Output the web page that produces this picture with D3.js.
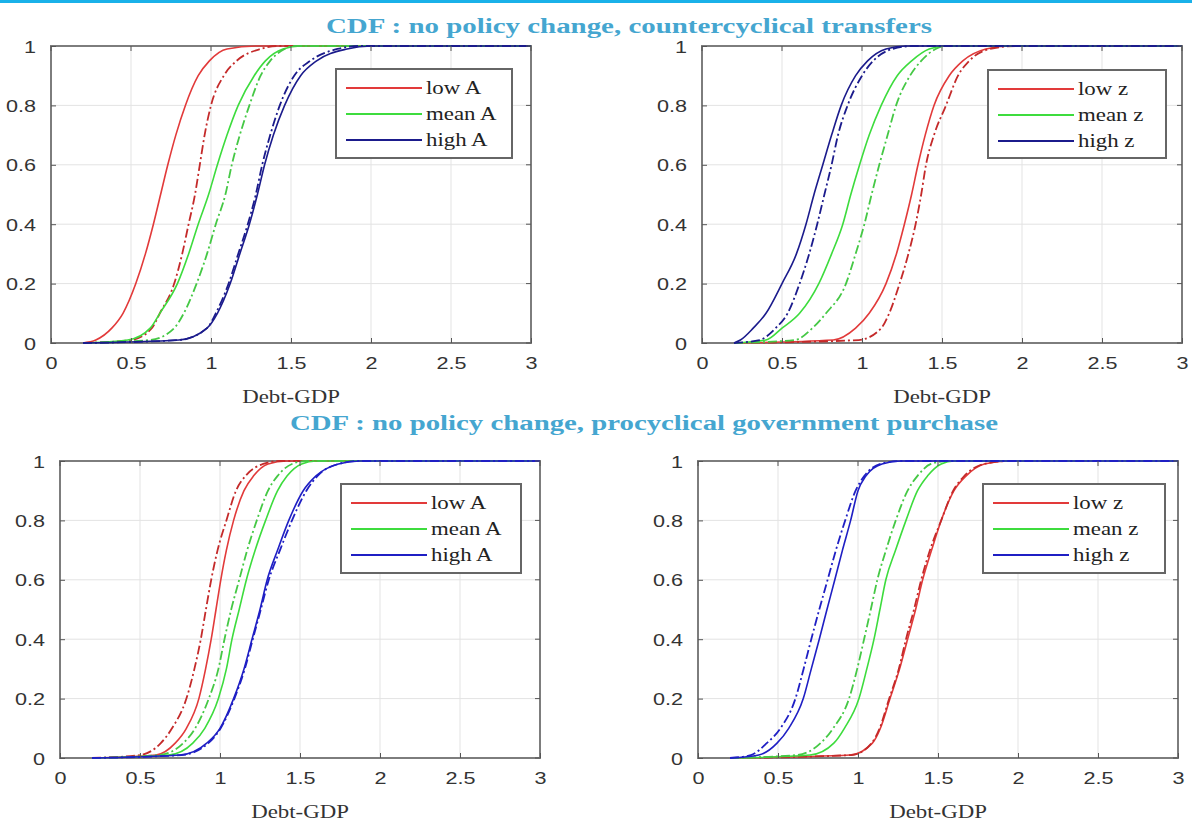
<!DOCTYPE html>
<html>
<head>
<meta charset="utf-8">
<script src="https://cdn.jsdelivr.net/npm/d3@7"></script>
<style>
  body { margin: 0; background: #fff; }
  svg { display: block; }
</style>
</head>
<body>
<div id="chart"></div>
<script>
// CDF levels shared by every curve (y values)
const cdfLevels = [0, 0.01, 0.05, 0.1, 0.2, 0.3, 0.4, 0.5, 0.6, 0.7, 0.8, 0.9, 0.95, 0.99, 1, 1];

// Debt-GDP where each curve reaches the level above
// top-left: countercyclical transfers, by A
const tlLowSolid   = [0.2, 0.28, 0.38, 0.45, 0.53, 0.59, 0.64, 0.685, 0.73, 0.78, 0.84, 0.92, 0.99, 1.1, 1.3, 3];
const tlLowDash    = [0.2, 0.5, 0.63, 0.68, 0.77, 0.82, 0.86, 0.90, 0.93, 0.96, 1.0, 1.08, 1.16, 1.31, 1.41, 3];
const tlMeanSolid  = [0.2, 0.48, 0.62, 0.68, 0.79, 0.86, 0.92, 0.985, 1.04, 1.1, 1.17, 1.27, 1.34, 1.45, 1.56, 3];
const tlMeanDash   = [0.2, 0.62, 0.77, 0.83, 0.91, 0.975, 1.03, 1.09, 1.13, 1.18, 1.24, 1.31, 1.37, 1.46, 1.52, 3];
const tlHighSolid  = [0.2, 0.8, 0.975, 1.04, 1.12, 1.18, 1.24, 1.29, 1.335, 1.39, 1.46, 1.56, 1.66, 1.85, 2.0, 3];
const tlHighDash   = [0.2, 0.8, 0.975, 1.03, 1.11, 1.17, 1.23, 1.28, 1.32, 1.37, 1.43, 1.52, 1.62, 1.79, 1.93, 3];

// top-right: countercyclical transfers, by z
const trLowSolid   = [0.2, 0.82, 0.96, 1.045, 1.15, 1.215, 1.265, 1.31, 1.35, 1.395, 1.45, 1.545, 1.63, 1.775, 1.92, 3];
const trLowDash    = [0.2, 0.98, 1.12, 1.17, 1.235, 1.29, 1.335, 1.37, 1.40, 1.45, 1.525, 1.60, 1.67, 1.80, 1.96, 3];
const trMeanSolid  = [0.2, 0.4, 0.50, 0.61, 0.73, 0.81, 0.88, 0.93, 0.985, 1.045, 1.12, 1.22, 1.31, 1.42, 1.525, 3];
const trMeanDash   = [0.2, 0.58, 0.69, 0.775, 0.90, 0.96, 1.015, 1.06, 1.108, 1.16, 1.213, 1.30, 1.37, 1.46, 1.525, 3];
const trHighSolid  = [0.2, 0.24, 0.32, 0.40, 0.50, 0.59, 0.65, 0.70, 0.755, 0.81, 0.87, 0.96, 1.035, 1.15, 1.275, 3];
const trHighDash   = [0.2, 0.36, 0.46, 0.535, 0.61, 0.67, 0.72, 0.765, 0.81, 0.85, 0.91, 1.0, 1.07, 1.19, 1.32, 3];

// bottom-left: procyclical government purchase, by A
const blLowSolid   = [0.2, 0.6, 0.72, 0.79, 0.868, 0.91, 0.945, 0.975, 1.005, 1.04, 1.085, 1.15, 1.21, 1.3, 1.415, 3];
const blLowDash    = [0.2, 0.5, 0.63, 0.7, 0.79, 0.84, 0.88, 0.912, 0.945, 0.985, 1.04, 1.1, 1.16, 1.27, 1.375, 3];
const blMeanSolid  = [0.2, 0.68, 0.83, 0.905, 0.99, 1.04, 1.075, 1.12, 1.165, 1.22, 1.285, 1.36, 1.42, 1.51, 1.6, 3];
const blMeanDash   = [0.2, 0.62, 0.77, 0.845, 0.93, 0.99, 1.028, 1.07, 1.12, 1.17, 1.23, 1.3, 1.36, 1.45, 1.54, 3];
const blHighSolid  = [0.2, 0.75, 0.917, 1.0, 1.085, 1.15, 1.2, 1.25, 1.295, 1.36, 1.43, 1.52, 1.6, 1.74, 1.875, 3];
const blHighDash   = [0.2, 0.76, 0.927, 1.004, 1.09, 1.155, 1.205, 1.255, 1.305, 1.375, 1.45, 1.54, 1.61, 1.74, 1.875, 3];

// bottom-right: procyclical government purchase, by z
const brLowSolid   = [0.2, 0.95, 1.09, 1.14, 1.2, 1.26, 1.31, 1.36, 1.404, 1.46, 1.52, 1.6, 1.676, 1.79, 1.937, 3];
const brLowDash    = [0.2, 0.96, 1.085, 1.135, 1.195, 1.255, 1.3, 1.35, 1.395, 1.45, 1.52, 1.595, 1.665, 1.79, 1.937, 3];
const brMeanSolid  = [0.2, 0.7, 0.849, 0.915, 1.006, 1.055, 1.1, 1.137, 1.174, 1.235, 1.3, 1.372, 1.435, 1.52, 1.6, 3];
const brMeanDash   = [0.2, 0.62, 0.766, 0.845, 0.944, 0.995, 1.038, 1.08, 1.121, 1.175, 1.236, 1.31, 1.372, 1.456, 1.56, 3];
const brHighSolid  = [0.2, 0.38, 0.494, 0.567, 0.658, 0.708, 0.758, 0.806, 0.855, 0.903, 0.954, 1.0, 1.05, 1.15, 1.268, 3];
const brHighDash   = [0.2, 0.33, 0.43, 0.515, 0.609, 0.66, 0.708, 0.758, 0.81, 0.862, 0.92, 0.985, 1.04, 1.14, 1.268, 3];

const xTicks = [0, 0.5, 1, 1.5, 2, 2.5, 3];
const xTickLabels = ["0", "0.5", "1", "1.5", "2", "2.5", "3"];
const yTicks = [0, 0.2, 0.4, 0.6, 0.8, 1];
const yTickLabels = ["0", "0.2", "0.4", "0.6", "0.8", "1"];
const legendA = ["low A", "mean A", "high A"];
const legendZ = ["low z", "mean z", "high z"];
const titles = ["CDF : no policy change, countercyclical transfers",
                "CDF : no policy change, procyclical government purchase"];

// text in the picture is stretched sideways
const sx = 1.27;

const svg = d3.select("#chart")
    .append("svg")
    .attr("width", 1192)
    .attr("height", 821);

// cyan rule at the very top
svg.append("rect")
    .attr("x", 0).attr("y", 0)
    .attr("width", 1192).attr("height", 3)
    .attr("fill", "#19b1e9");

// Titles
svg.append("text")
    .attr("x", 326).attr("y", 33)
    .attr("textLength", 606)
    .attr("lengthAdjust", "spacingAndGlyphs")
    .style("font-family", "'Liberation Serif', serif")
    .style("font-weight", "bold")
    .style("font-size", "20px")
    .style("fill", "#45a6d0")
    .text(titles[0]);

svg.append("text")
    .attr("x", 290).attr("y", 430)
    .attr("textLength", 708)
    .attr("lengthAdjust", "spacingAndGlyphs")
    .style("font-family", "'Liberation Serif', serif")
    .style("font-weight", "bold")
    .style("font-size", "20px")
    .style("fill", "#45a6d0")
    .text(titles[1]);

// panel set up
const panels = [
    {left: 51, right: 531, top: 46, bottom: 343, legend: {x: 336, y: 69, w: 176, h: 89}, names: legendA,
     blue: "#1b1b8c",
     series: [[tlLowSolid, tlLowDash], [tlMeanSolid, tlMeanDash], [tlHighSolid, tlHighDash]]},
    {left: 702, right: 1182, top: 46, bottom: 343, legend: {x: 988, y: 70, w: 178, h: 88}, names: legendZ,
     blue: "#1b1b8c",
     series: [[trLowSolid, trLowDash], [trMeanSolid, trMeanDash], [trHighSolid, trHighDash]]},
    {left: 60, right: 540, top: 461, bottom: 758, legend: {x: 341, y: 484, w: 180, h: 89}, names: legendA,
     blue: "#1f1fc4",
     series: [[blLowSolid, blLowDash], [blMeanSolid, blMeanDash], [blHighSolid, blHighDash]]},
    {left: 698, right: 1178, top: 461, bottom: 758, legend: {x: 983, y: 484, w: 182, h: 89}, names: legendZ,
     blue: "#1f1fc4",
     series: [[brLowSolid, brLowDash], [brMeanSolid, brMeanDash], [brHighSolid, brHighDash]]}
];

panels.forEach(function(p) {
    const x = d3.scaleLinear().domain([0, 3]).range([p.left, p.right]);
    const y = d3.scaleLinear().domain([0, 1]).range([p.bottom, p.top]);
    const g = svg.append("g");

    const solidColors = ["#e23a3a", "#3ddc3d", p.blue];
    const dashColors = ["#c42a2a", "#45c845", p.blue];

    // grid lines
    g.append("g")
        .selectAll("line.vgrid")
        .data(xTicks.slice(1, -1))
        .enter().append("line")
        .attr("x1", d => x(d)).attr("x2", d => x(d))
        .attr("y1", p.top).attr("y2", p.bottom)
        .attr("stroke", "#e3e3e3").attr("stroke-width", 1);

    g.append("g")
        .selectAll("line.hgrid")
        .data(yTicks.slice(1, -1))
        .enter().append("line")
        .attr("x1", p.left).attr("x2", p.right)
        .attr("y1", d => y(d)).attr("y2", d => y(d))
        .attr("stroke", "#e3e3e3").attr("stroke-width", 1);

    // box (under the curves, so the curves at 1 show on the top edge)
    g.append("rect")
        .attr("x", p.left).attr("y", p.top)
        .attr("width", p.right - p.left).attr("height", p.bottom - p.top)
        .attr("fill", "none")
        .attr("stroke", "#7d7d7d")
        .attr("stroke-width", 2);

    // curves
    const line = d3.line()
        .x(d => x(d[0]))
        .y(d => y(d[1]))
        .curve(d3.curveMonotoneX);

    p.series.forEach(function(pair, i) {
        const solidPts = pair[0].map((v, k) => [v, cdfLevels[k]]);
        const dashPts = pair[1].map((v, k) => [v, cdfLevels[k]]);
        g.append("path")
            .datum(solidPts)
            .attr("fill", "none")
            .attr("stroke", solidColors[i])
            .attr("stroke-width", 1.6)
            .attr("d", line);
        g.append("path")
            .datum(dashPts)
            .attr("fill", "none")
            .attr("stroke", dashColors[i])
            .attr("stroke-width", 1.8)
            .attr("stroke-dasharray", "9,3,2,3")
            .attr("d", line);
    });

    // axes (ticks pointing inward)
    const xAxis = g.append("g")
        .attr("transform", `translate(0,${p.bottom})`)
        .call(d3.axisBottom(x).tickValues(xTicks).tickSize(-5).tickFormat((d, i) => xTickLabels[i]));
    const yAxis = g.append("g")
        .attr("transform", `translate(${p.left},0)`)
        .call(d3.axisLeft(y).tickValues(yTicks).tickSize(-5).tickFormat((d, i) => yTickLabels[i]));

    [xAxis, yAxis].forEach(function(ax) {
        ax.select(".domain").remove();
        ax.selectAll(".tick line").attr("stroke", "#555");
        ax.selectAll("text")
            .style("font-family", "'Liberation Sans', Arial, sans-serif")
            .style("font-size", "17px")
            .style("fill", "#333");
    });
    xAxis.selectAll("text").attr("y", 14).attr("dy", "0.71em")
        .attr("transform", `scale(${sx},1)`);
    yAxis.selectAll("text").attr("x", -15 / sx).attr("dy", "0.36em")
        .attr("transform", `scale(${sx},1)`);

    // top and right ticks
    g.append("g")
        .selectAll("line")
        .data(xTicks)
        .enter().append("line")
        .attr("x1", d => x(d)).attr("x2", d => x(d))
        .attr("y1", p.top).attr("y2", p.top + 5)
        .attr("stroke", "#555");
    g.append("g")
        .selectAll("line")
        .data(yTicks)
        .enter().append("line")
        .attr("x1", p.right).attr("x2", p.right - 5)
        .attr("y1", d => y(d)).attr("y2", d => y(d))
        .attr("stroke", "#555");

    // x-axis label
    g.append("text")
        .attr("transform", `translate(${(p.left + p.right) / 2},${p.bottom + 60}) scale(${sx},1)`)
        .style("text-anchor", "middle")
        .style("font-family", "'Liberation Serif', serif")
        .style("font-size", "18px")
        .style("fill", "#333")
        .text("Debt-GDP");

    // legend
    const lg = g.append("g")
        .attr("transform", `translate(${p.legend.x},${p.legend.y})`);
    lg.append("rect")
        .attr("width", p.legend.w).attr("height", p.legend.h)
        .attr("fill", "#fff")
        .attr("stroke", "#666")
        .attr("stroke-width", 2);
    p.names.forEach(function(name, i) {
        const rowY = 19 + i * 26;
        lg.append("line")
            .attr("x1", 10).attr("x2", 86)
            .attr("y1", rowY).attr("y2", rowY)
            .attr("stroke", solidColors[i])
            .attr("stroke-width", 1.8);
        lg.append("text")
            .attr("transform", `translate(90,${rowY + 6}) scale(${sx},1)`)
            .style("font-family", "'Liberation Serif', serif")
            .style("font-size", "18px")
            .style("fill", "#222")
            .text(name);
    });
});
</script>
</body>
</html>
